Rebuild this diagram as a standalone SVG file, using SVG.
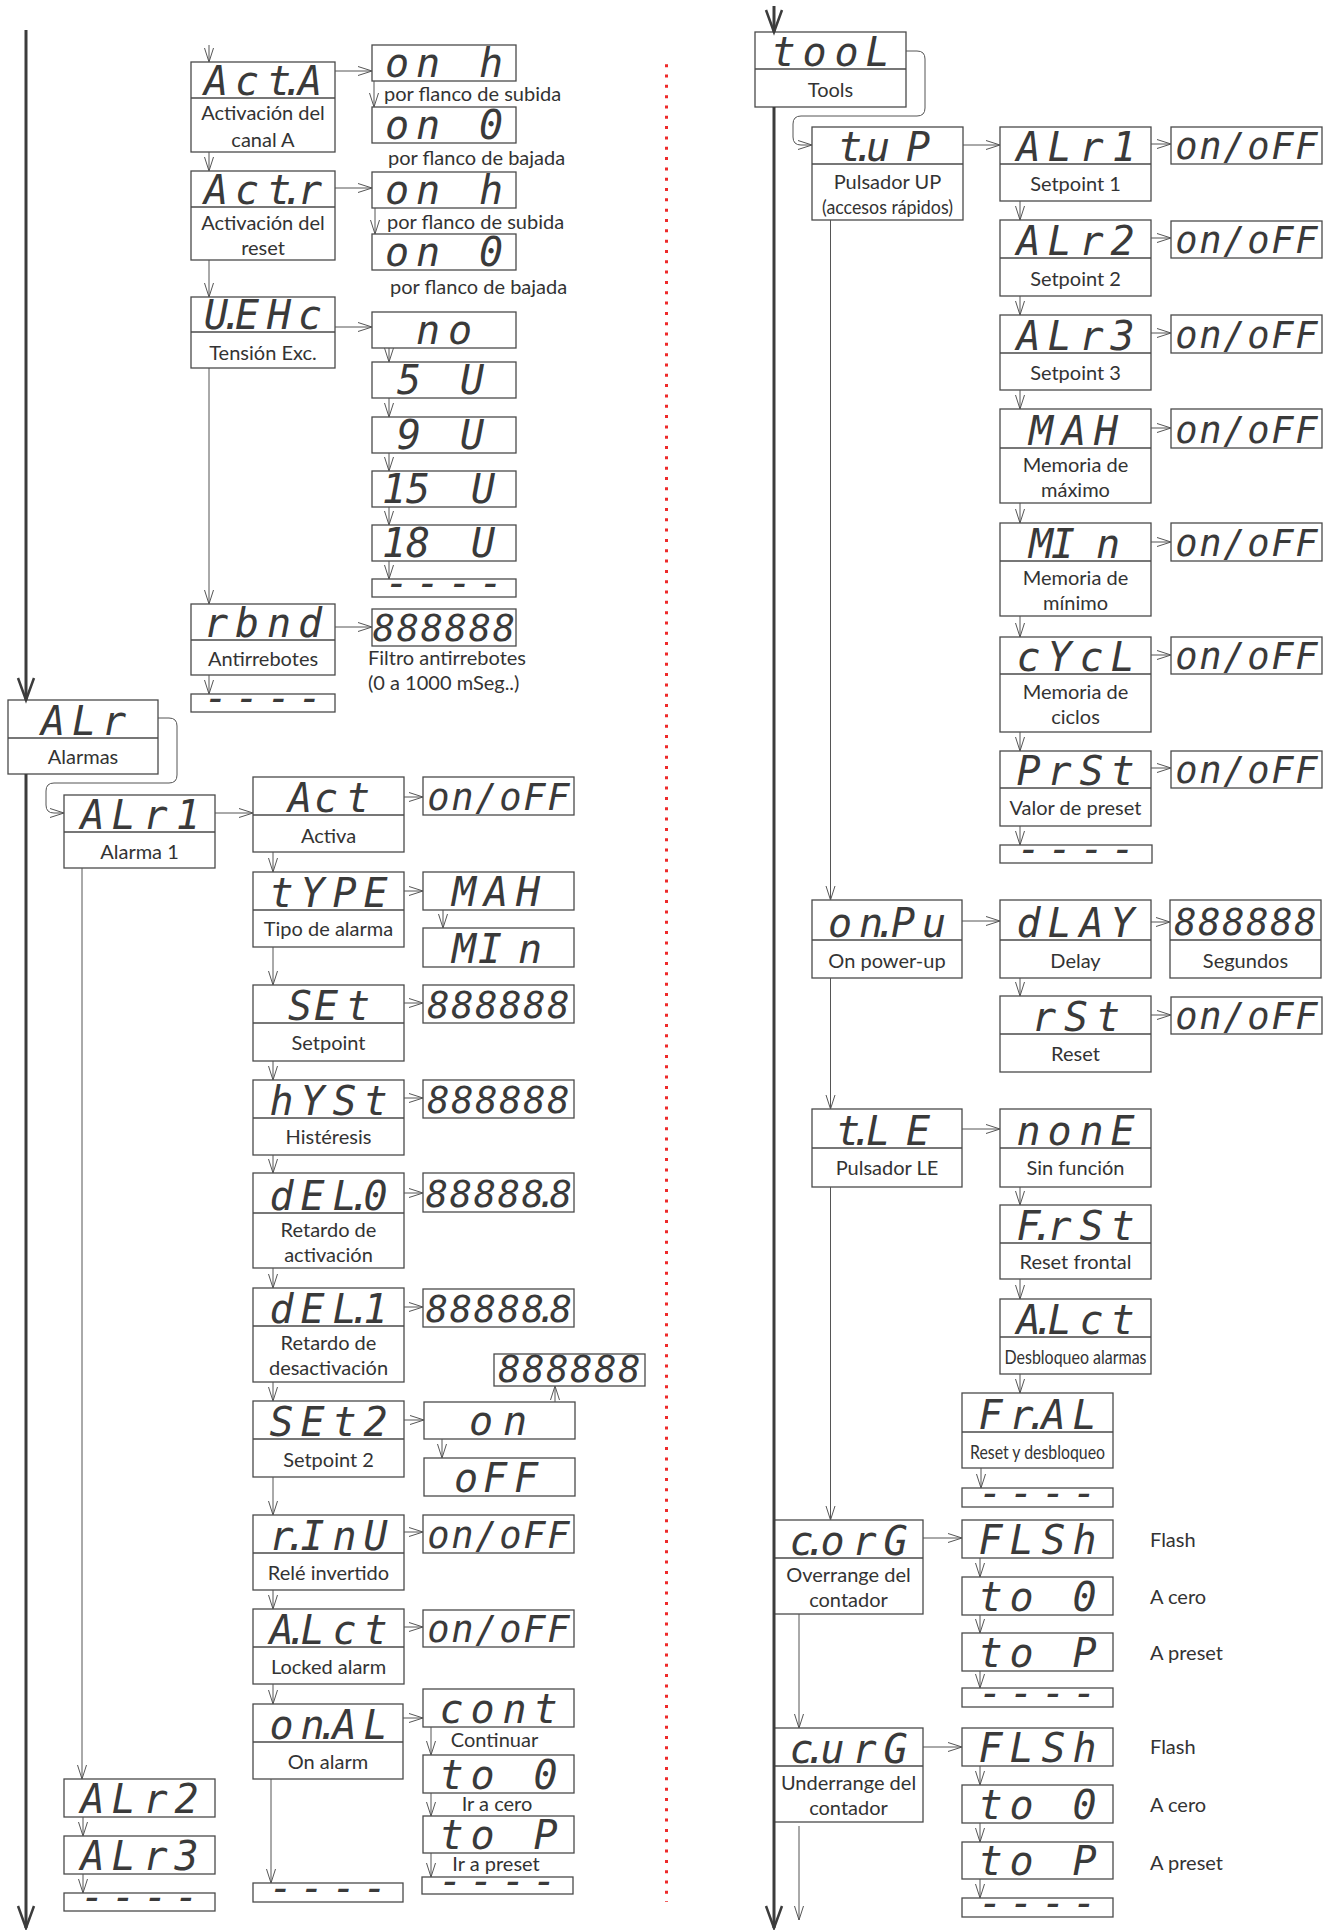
<svg xmlns="http://www.w3.org/2000/svg" width="1332" height="1930" viewBox="0 0 1332 1930">
<style>
.b{fill:#fff;stroke:#4a4a4a;stroke-width:1.3}
.d{stroke:#4a4a4a;stroke-width:1.3}
.s{font-family:"DejaVu Sans Mono","Liberation Mono",monospace;font-style:italic;font-size:40px;fill:#3a3a3a;text-anchor:middle}
.v{font-family:"DejaVu Sans Mono","Liberation Mono",monospace;font-style:italic;font-size:37px;fill:#3a3a3a;text-anchor:middle}
.l{font-family:Lato,"Liberation Sans",sans-serif;font-size:20px;fill:#333;text-anchor:middle}
.n{font-family:Lato,"Liberation Sans",sans-serif;font-size:20px;fill:#333}
.c{fill:none;stroke:#555;stroke-width:1;marker-end:url(#a)}
.m{fill:none;stroke:#3c3c3c;stroke-width:3;marker-end:url(#A)}
</style>
<defs>
<marker id="a" markerUnits="userSpaceOnUse" markerWidth="16" markerHeight="12" refX="14" refY="5" orient="auto" overflow="visible"><path d="M0,0.5 L14,5 L0,9.5" fill="none" stroke="#555" stroke-width="1"/></marker>
<marker id="A" markerUnits="userSpaceOnUse" markerWidth="26" markerHeight="20" refX="22" refY="8" orient="auto" overflow="visible"><path d="M0,0 L22,8 L0,16" fill="none" stroke="#3c3c3c" stroke-width="2.5"/></marker>
</defs>
<rect width="1332" height="1930" fill="#fff"/>

<g id="separator"><line x1="666.5" y1="64.2" x2="666.5" y2="1902" stroke="#ee2a2a" stroke-width="3" stroke-dasharray="3 7.32"/></g>

<!-- LEFT COLUMN -->
<g id="n-acta"><rect class="b" x="191" y="62" width="144" height="90"/><line class="d" x1="191" y1="98" x2="335" y2="98"/><text class="s" x="216 247 279 293 310" y="95">Act.A</text><text class="l" x="263" y="120">Activación del</text><text class="l" x="263" y="147">canal A</text></g>
<g id="n-onh1"><rect class="b" x="372" y="45" width="144" height="36"/><text class="s" x="397 428 460 491" y="77">on h</text><text class="n" x="384" y="101">por flanco de subida</text></g>
<g id="n-on01"><rect class="b" x="372" y="107" width="144" height="36"/><text class="s" x="397 428 460 491" y="139">on 0</text><text class="n" x="388" y="165">por flanco de bajada</text></g>
<g id="n-actr"><rect class="b" x="191" y="171" width="144" height="89"/><line class="d" x1="191" y1="207" x2="335" y2="207"/><text class="s" x="216 247 279 293 310" y="204">Act.r</text><text class="l" x="263" y="230">Activación del</text><text class="l" x="263" y="255">reset</text></g>
<g id="n-onh2"><rect class="b" x="372" y="172" width="144" height="36"/><text class="s" x="397 428 460 491" y="204">on h</text><text class="n" x="387" y="229">por flanco de subida</text></g>
<g id="n-on02"><rect class="b" x="372" y="234" width="144" height="36"/><text class="s" x="397 428 460 491" y="266">on 0</text><text class="n" x="390" y="294">por flanco de bajada</text></g>
<g id="n-uehc"><rect class="b" x="191" y="297" width="144" height="71"/><line class="d" x1="191" y1="332" x2="335" y2="332"/><text class="s" x="216 232 247 279 310" y="329">U.EHc</text><text class="l" x="263" y="360">Tensión Exc.</text></g>
<g id="n-no"><rect class="b" x="372" y="312" width="144" height="36"/><text class="s" x="428 460" y="344">no</text></g>
<g id="n-5u"><rect class="b" x="372" y="362" width="144" height="36"/><text class="s" x="409 440 472" y="394">5 U</text></g>
<g id="n-9u"><rect class="b" x="372" y="417" width="144" height="36"/><text class="s" x="409 440 472" y="449">9 U</text></g>
<g id="n-15u"><rect class="b" x="372" y="471" width="144" height="36"/><text class="s" x="394 418 450 483" y="503">15 U</text></g>
<g id="n-18u"><rect class="b" x="372" y="525" width="144" height="36"/><text class="s" x="394 418 450 483" y="557">18 U</text></g>
<g id="n-uend"><rect class="b" x="372" y="579" width="144" height="18"/><text class="s" x="397 428 460 491" y="597">----</text></g>
<g id="n-rbnd"><rect class="b" x="191" y="604" width="144" height="71"/><line class="d" x1="191" y1="640" x2="335" y2="640"/><text class="s" x="216 247 279 310" y="637">rbnd</text><text class="l" x="263" y="666">Antirrebotes</text></g>
<g id="n-rbndval"><rect class="b" x="372" y="609" width="144" height="37"/><text class="v" x="384 408 432 456 480 504" y="641">888888</text><text class="n" x="368" y="665">Filtro antirrebotes</text><text class="n" x="368" y="690">(0 a 1000 mSeg..)</text></g>
<g id="n-aend"><rect class="b" x="191" y="694" width="144" height="18"/><text class="s" x="216 247 279 310" y="712">----</text></g>

<g id="n-alr"><rect class="b" x="8" y="700" width="150" height="74"/><line class="d" x1="8" y1="738" x2="158" y2="738"/><text class="s" x="53 84 114" y="735">ALr</text><text class="l" x="83" y="764">Alarmas</text></g>
<g id="n-alr1"><rect class="b" x="64" y="795" width="151" height="73"/><line class="d" x1="64" y1="832" x2="215" y2="832"/><text class="s" x="92.5 123.5 155.5 188" y="829">ALr1</text><text class="l" x="139.5" y="859">Alarma 1</text></g>
<g id="n-act"><rect class="b" x="253" y="777" width="151" height="75"/><line class="d" x1="253" y1="815" x2="404" y2="815"/><text class="s" x="300 326 358" y="812">Act</text><text class="l" x="328.5" y="843">Activa</text></g>
<g id="n-actval"><rect class="b" x="423" y="777" width="151" height="38"/><text class="v" x="438.5 462.5 486.5 510.5 534.5 558.5" y="810">on/oFF</text></g>
<g id="n-type"><rect class="b" x="253" y="872" width="151" height="75"/><line class="d" x1="253" y1="910" x2="404" y2="910"/><text class="s" x="281.5 312.5 344.5 375.5" y="907">tYPE</text><text class="l" x="328.5" y="936">Tipo de alarma</text></g>
<g id="n-mah"><rect class="b" x="423" y="872" width="151" height="38"/><text class="s" x="464 496 528" y="906">MAH</text></g>
<g id="n-min"><rect class="b" x="423" y="928" width="151" height="39"/><text class="s" x="464 490 530" y="963">MIn</text></g>
<g id="n-set"><rect class="b" x="253" y="985" width="151" height="76"/><line class="d" x1="253" y1="1023" x2="404" y2="1023"/><text class="s" x="300 326 358" y="1020">SEt</text><text class="l" x="328.5" y="1050">Setpoint</text></g>
<g id="n-setval"><rect class="b" x="423" y="985" width="151" height="38"/><text class="v" x="438.5 462.5 486.5 510.5 534.5 558.5" y="1018">888888</text></g>
<g id="n-hyst"><rect class="b" x="253" y="1080" width="151" height="75"/><line class="d" x1="253" y1="1118" x2="404" y2="1118"/><text class="s" x="281.5 312.5 344.5 375.5" y="1115">hYSt</text><text class="l" x="328.5" y="1144">Histéresis</text></g>
<g id="n-hystval"><rect class="b" x="423" y="1080" width="151" height="38"/><text class="v" x="438.5 462.5 486.5 510.5 534.5 558.5" y="1113">888888</text></g>
<g id="n-del0"><rect class="b" x="253" y="1173" width="151" height="95"/><line class="d" x1="253" y1="1213" x2="404" y2="1213"/><text class="s" x="281.5 312.5 344.5 360 375.5" y="1210">dEL.0</text><text class="l" x="328.5" y="1237">Retardo de</text><text class="l" x="328.5" y="1262">activación</text></g>
<g id="n-del0val"><rect class="b" x="423" y="1173" width="151" height="39"/><text class="v" x="437 461 485 509 533 547 561" y="1207">88888.8</text></g>
<g id="n-del1"><rect class="b" x="253" y="1288" width="151" height="94"/><line class="d" x1="253" y1="1326" x2="404" y2="1326"/><text class="s" x="281.5 312.5 344.5 360 375.5" y="1323">dEL.1</text><text class="l" x="328.5" y="1350">Retardo de</text><text class="l" x="328.5" y="1375">desactivación</text></g>
<g id="n-del1val"><rect class="b" x="423" y="1289" width="151" height="38"/><text class="v" x="437 461 485 509 533 547 561" y="1322">88888.8</text></g>
<g id="n-set2"><rect class="b" x="253" y="1401" width="151" height="76"/><line class="d" x1="253" y1="1439" x2="404" y2="1439"/><text class="s" x="281.5 312.5 344.5 375.5" y="1436">SEt2</text><text class="l" x="328.5" y="1467">Setpoint 2</text></g>
<g id="n-set2val"><rect class="b" x="494" y="1354" width="151" height="32"/><text class="v" x="509.5 533.5 557.5 581.5 605.5 629.5" y="1382">888888</text></g>
<g id="n-set2on"><rect class="b" x="424" y="1402" width="151" height="37"/><text class="s" x="481 515" y="1435">on</text></g>
<g id="n-set2off"><rect class="b" x="424" y="1458" width="151" height="38"/><text class="s" x="466 495 526" y="1492">oFF</text></g>
<g id="n-rinu"><rect class="b" x="253" y="1515" width="151" height="75"/><line class="d" x1="253" y1="1553" x2="404" y2="1553"/><text class="s" x="281.5 296 312.5 344.5 375.5" y="1550">r.InU</text><text class="l" x="328.5" y="1580">Relé invertido</text></g>
<g id="n-rinuval"><rect class="b" x="423" y="1515" width="151" height="38"/><text class="v" x="438.5 462.5 486.5 510.5 534.5 558.5" y="1548">on/oFF</text></g>
<g id="n-alct"><rect class="b" x="253" y="1609" width="151" height="75"/><line class="d" x1="253" y1="1647" x2="404" y2="1647"/><text class="s" x="281.5 297 312.5 344.5 375.5" y="1644">A.Lct</text><text class="l" x="328.5" y="1674">Locked alarm</text></g>
<g id="n-alctval"><rect class="b" x="423" y="1610" width="151" height="37"/><text class="v" x="438.5 462.5 486.5 510.5 534.5 558.5" y="1642">on/oFF</text></g>
<g id="n-onal"><rect class="b" x="253" y="1704" width="150" height="75"/><line class="d" x1="253" y1="1742" x2="403" y2="1742"/><text class="s" x="281.5 312.5 328 344.5 375.5" y="1739">on.AL</text><text class="l" x="328" y="1769">On alarm</text></g>
<g id="n-cont"><rect class="b" x="423" y="1689" width="151" height="38"/><text class="s" x="451.5 482.5 514.5 545.5" y="1723">cont</text><text class="l" x="494.5" y="1747">Continuar</text></g>
<g id="n-to0a"><rect class="b" x="423" y="1755" width="151" height="38"/><text class="s" x="451.5 482.5 514.5 545.5" y="1789">to 0</text><text class="l" x="497" y="1811">Ir a cero</text></g>
<g id="n-topa"><rect class="b" x="423" y="1816" width="151" height="37"/><text class="s" x="451.5 482.5 514.5 545.5" y="1849">to P</text><text class="l" x="496" y="1871">Ir a preset</text></g>
<g id="n-onalend"><rect class="b" x="422" y="1877" width="151" height="17"/><text class="s" x="450.5 481.5 513.5 544.5" y="1894.5">----</text></g>
<g id="n-alr1end"><rect class="b" x="253" y="1883" width="150" height="19"/><text class="s" x="281 312 344 375" y="1901.5">----</text></g>
<g id="n-alr2"><rect class="b" x="64" y="1779" width="151" height="38"/><text class="s" x="92.5 123.5 155.5 186.5" y="1813">ALr2</text></g>
<g id="n-alr3"><rect class="b" x="64" y="1836" width="151" height="38"/><text class="s" x="92.5 123.5 155.5 186.5" y="1870">ALr3</text></g>
<g id="n-alrend"><rect class="b" x="64" y="1893" width="151" height="18"/><text class="s" x="92.5 123.5 155.5 186.5" y="1911">----</text></g>

<!-- RIGHT COLUMN -->
<g id="n-tool"><rect class="b" x="755" y="32" width="151" height="75"/><line class="d" x1="755" y1="69" x2="906" y2="69"/><text class="s" x="783.5 814.5 846.5 877.5" y="66">tooL</text><text class="l" x="830.5" y="97">Tools</text></g>
<g id="n-tup"><rect class="b" x="812" y="127" width="151" height="93"/><line class="d" x1="812" y1="164" x2="963" y2="164"/><text class="s" x="850 864 878 918" y="161">t.uP</text><text class="l" x="887.5" y="189">Pulsador UP</text><text class="l" x="887.5" y="214" textLength="131" lengthAdjust="spacingAndGlyphs">(accesos rápidos)</text></g>
<g id="n-r-alr1"><rect class="b" x="1000" y="127" width="151" height="74"/><line class="d" x1="1000" y1="164" x2="1151" y2="164"/><text class="s" x="1028.5 1059.5 1091.5 1124" y="161">ALr1</text><text class="l" x="1075.5" y="191">Setpoint 1</text></g>
<g id="n-r-alr1val"><rect class="b" x="1171" y="127" width="151" height="37"/><text class="v" x="1186.5 1210.5 1234.5 1258.5 1282.5 1306.5" y="159">on/oFF</text></g>
<g id="n-r-alr2"><rect class="b" x="1000" y="220" width="151" height="76"/><line class="d" x1="1000" y1="258" x2="1151" y2="258"/><text class="s" x="1028.5 1059.5 1091.5 1122.5" y="255">ALr2</text><text class="l" x="1075.5" y="286">Setpoint 2</text></g>
<g id="n-r-alr2val"><rect class="b" x="1171" y="221" width="151" height="37"/><text class="v" x="1186.5 1210.5 1234.5 1258.5 1282.5 1306.5" y="253">on/oFF</text></g>
<g id="n-r-alr3"><rect class="b" x="1000" y="315" width="151" height="75"/><line class="d" x1="1000" y1="353" x2="1151" y2="353"/><text class="s" x="1028.5 1059.5 1091.5 1122.5" y="350">ALr3</text><text class="l" x="1075.5" y="380">Setpoint 3</text></g>
<g id="n-r-alr3val"><rect class="b" x="1171" y="315" width="151" height="38"/><text class="v" x="1186.5 1210.5 1234.5 1258.5 1282.5 1306.5" y="348">on/oFF</text></g>
<g id="n-r-mah"><rect class="b" x="1000" y="409" width="151" height="94"/><line class="d" x1="1000" y1="448" x2="1151" y2="448"/><text class="s" x="1041 1074 1106" y="445">MAH</text><text class="l" x="1075.5" y="472">Memoria de</text><text class="l" x="1075.5" y="497">máximo</text></g>
<g id="n-r-mahval"><rect class="b" x="1171" y="409" width="151" height="39"/><text class="v" x="1186.5 1210.5 1234.5 1258.5 1282.5 1306.5" y="443">on/oFF</text></g>
<g id="n-r-min"><rect class="b" x="1000" y="523" width="151" height="93"/><line class="d" x1="1000" y1="561" x2="1151" y2="561"/><text class="s" x="1041 1063 1108" y="558">MIn</text><text class="l" x="1075.5" y="585">Memoria de</text><text class="l" x="1075.5" y="610">mínimo</text></g>
<g id="n-r-minval"><rect class="b" x="1171" y="523" width="151" height="38"/><text class="v" x="1186.5 1210.5 1234.5 1258.5 1282.5 1306.5" y="556">on/oFF</text></g>
<g id="n-r-cycl"><rect class="b" x="1000" y="637" width="151" height="95"/><line class="d" x1="1000" y1="674" x2="1151" y2="674"/><text class="s" x="1028.5 1059.5 1091.5 1122.5" y="671">cYcL</text><text class="l" x="1075.5" y="699">Memoria de</text><text class="l" x="1075.5" y="724">ciclos</text></g>
<g id="n-r-cyclval"><rect class="b" x="1171" y="637" width="151" height="37"/><text class="v" x="1186.5 1210.5 1234.5 1258.5 1282.5 1306.5" y="669">on/oFF</text></g>
<g id="n-r-prst"><rect class="b" x="1000" y="751" width="151" height="75"/><line class="d" x1="1000" y1="788" x2="1151" y2="788"/><text class="s" x="1028.5 1059.5 1091.5 1122.5" y="785">PrSt</text><text class="l" x="1075.5" y="815">Valor de preset</text></g>
<g id="n-r-prstval"><rect class="b" x="1171" y="751" width="151" height="37"/><text class="v" x="1186.5 1210.5 1234.5 1258.5 1282.5 1306.5" y="783">on/oFF</text></g>
<g id="n-r-tupend"><rect class="b" x="1000" y="845" width="152" height="18"/><text class="s" x="1029 1060 1092 1123" y="863">----</text></g>
<g id="n-onpu"><rect class="b" x="812" y="900" width="150" height="78"/><line class="d" x1="812" y1="940" x2="962" y2="940"/><text class="s" x="840 871 886 903 934" y="937">on.Pu</text><text class="l" x="887" y="968">On power-up</text></g>
<g id="n-dlay"><rect class="b" x="1000" y="900" width="151" height="78"/><line class="d" x1="1000" y1="940" x2="1151" y2="940"/><text class="s" x="1028.5 1059.5 1091.5 1122.5" y="937">dLAY</text><text class="l" x="1075.5" y="968">Delay</text></g>
<g id="n-seg"><rect class="b" x="1170" y="900" width="151" height="78"/><line class="d" x1="1170" y1="940" x2="1321" y2="940"/><text class="v" x="1185.5 1209.5 1233.5 1257.5 1281.5 1305.5" y="935">888888</text><text class="l" x="1245.5" y="968">Segundos</text></g>
<g id="n-rst"><rect class="b" x="1000" y="996" width="151" height="76"/><line class="d" x1="1000" y1="1034" x2="1151" y2="1034"/><text class="s" x="1044 1076 1108" y="1031">rSt</text><text class="l" x="1075.5" y="1061">Reset</text></g>
<g id="n-rstval"><rect class="b" x="1171" y="997" width="151" height="37"/><text class="v" x="1186.5 1210.5 1234.5 1258.5 1282.5 1306.5" y="1029">on/oFF</text></g>
<g id="n-tle"><rect class="b" x="812" y="1109" width="150" height="78"/><line class="d" x1="812" y1="1148" x2="962" y2="1148"/><text class="s" x="848 862 878 918" y="1145">t.LE</text><text class="l" x="887" y="1175">Pulsador LE</text></g>
<g id="n-none"><rect class="b" x="1000" y="1109" width="151" height="78"/><line class="d" x1="1000" y1="1148" x2="1151" y2="1148"/><text class="s" x="1028.5 1059.5 1091.5 1122.5" y="1145">nonE</text><text class="l" x="1075.5" y="1175">Sin función</text></g>
<g id="n-frst"><rect class="b" x="1000" y="1205" width="151" height="74"/><line class="d" x1="1000" y1="1243" x2="1151" y2="1243"/><text class="s" x="1028.5 1043 1059.5 1091.5 1122.5" y="1240">F.rSt</text><text class="l" x="1075.5" y="1269">Reset frontal</text></g>
<g id="n-r-alct"><rect class="b" x="1000" y="1299" width="151" height="75"/><line class="d" x1="1000" y1="1337" x2="1151" y2="1337"/><text class="s" x="1028.5 1044 1059.5 1091.5 1122.5" y="1334">A.Lct</text><text class="l" x="1075.5" y="1364" textLength="142" lengthAdjust="spacingAndGlyphs">Desbloqueo alarmas</text></g>
<g id="n-fral"><rect class="b" x="962" y="1393" width="151" height="75"/><line class="d" x1="962" y1="1432" x2="1113" y2="1432"/><text class="s" x="990.5 1021.5 1037 1053.5 1084.5" y="1429">Fr.AL</text><text class="l" x="1037.5" y="1459" textLength="135" lengthAdjust="spacingAndGlyphs">Reset y desbloqueo</text></g>
<g id="n-tleend"><rect class="b" x="962" y="1488" width="151" height="19"/><text class="s" x="990.5 1021.5 1053.5 1084.5" y="1506.5">----</text></g>
<g id="n-corg"><rect class="b" x="774" y="1520" width="149" height="94"/><line class="d" x1="774" y1="1558" x2="923" y2="1558"/><text class="s" x="801.5 816 832.5 864.5 895.5" y="1555">c.orG</text><text class="l" x="848.5" y="1582">Overrange del</text><text class="l" x="848.5" y="1607">contador</text></g>
<g id="n-flsh1"><rect class="b" x="962" y="1520" width="151" height="38"/><text class="s" x="990.5 1021.5 1053.5 1084.5" y="1554">FLSh</text><text class="n" x="1150" y="1547">Flash</text></g>
<g id="n-to01"><rect class="b" x="962" y="1577" width="151" height="38"/><text class="s" x="990.5 1021.5 1053.5 1084.5" y="1611">to 0</text><text class="n" x="1150" y="1604">A cero</text></g>
<g id="n-top1"><rect class="b" x="962" y="1633" width="151" height="38"/><text class="s" x="990.5 1021.5 1053.5 1084.5" y="1667">to P</text><text class="n" x="1150" y="1660">A preset</text></g>
<g id="n-corgend"><rect class="b" x="962" y="1688" width="151" height="19"/><text class="s" x="990.5 1021.5 1053.5 1084.5" y="1706.5">----</text></g>
<g id="n-curg"><rect class="b" x="774" y="1728" width="149" height="94"/><line class="d" x1="774" y1="1766" x2="923" y2="1766"/><text class="s" x="801.5 816 832.5 864.5 895.5" y="1763">c.urG</text><text class="l" x="848.5" y="1790">Underrange del</text><text class="l" x="848.5" y="1815">contador</text></g>
<g id="n-flsh2"><rect class="b" x="962" y="1728" width="151" height="38"/><text class="s" x="990.5 1021.5 1053.5 1084.5" y="1762">FLSh</text><text class="n" x="1150" y="1754">Flash</text></g>
<g id="n-to02"><rect class="b" x="962" y="1785" width="151" height="38"/><text class="s" x="990.5 1021.5 1053.5 1084.5" y="1819">to 0</text><text class="n" x="1150" y="1812">A cero</text></g>
<g id="n-top2"><rect class="b" x="962" y="1842" width="151" height="37"/><text class="s" x="990.5 1021.5 1053.5 1084.5" y="1875">to P</text><text class="n" x="1150" y="1870">A preset</text></g>
<g id="n-curgend"><rect class="b" x="962" y="1898" width="151" height="19"/><text class="s" x="990.5 1021.5 1053.5 1084.5" y="1916.5">----</text></g>

<g id="connectors">
<path class="m" d="M26,30 V700"/>
<path class="m" d="M26,774 V1928"/>
<path class="m" d="M774,6 V32"/>
<path class="m" d="M774,107 V1928"/>
<path class="c" d="M209,45 V62"/>
<path class="c" d="M335,71 H372"/>
<path class="c" d="M374,81 V107"/>
<path class="c" d="M209,152 V171"/>
<path class="c" d="M335,188 H372"/>
<path class="c" d="M375,208 V234"/>
<path class="c" d="M209,260 V297"/>
<path class="c" d="M335,327 H372"/>
<path class="c" d="M389,348 V362"/>
<path class="c" d="M389,398 V417"/>
<path class="c" d="M389,453 V471"/>
<path class="c" d="M389,507 V525"/>
<path class="c" d="M389,561 V579"/>
<path class="c" d="M209,368 V604"/>
<path class="c" d="M335,627 H372"/>
<path class="c" d="M209,675 V694"/>
<path class="c" d="M158,718 H169 Q177,718 177,726 V775 Q177,783 169,783 H54 Q46,783 46,791 V805 Q46,813 54,813 H64"/>
<path class="c" d="M215,813 H253"/>
<path class="c" d="M82,868 V1779"/>
<path class="c" d="M83,1817 V1836"/>
<path class="c" d="M83,1874 V1893"/>
<path class="c" d="M404,797 H423"/>
<path class="c" d="M273,852 V872"/>
<path class="c" d="M404,891 H423"/>
<path class="c" d="M443,910 V928"/>
<path class="c" d="M273,947 V985"/>
<path class="c" d="M404,1003 H423"/>
<path class="c" d="M273,1061 V1080"/>
<path class="c" d="M404,1098 H423"/>
<path class="c" d="M273,1155 V1173"/>
<path class="c" d="M404,1193 H423"/>
<path class="c" d="M273,1268 V1288"/>
<path class="c" d="M404,1307 H423"/>
<path class="c" d="M273,1382 V1401"/>
<path class="c" d="M404,1420 H424"/>
<path class="c" d="M555,1402 V1386"/>
<path class="c" d="M442,1439 V1458"/>
<path class="c" d="M273,1477 V1515"/>
<path class="c" d="M404,1532 H423"/>
<path class="c" d="M273,1590 V1609"/>
<path class="c" d="M404,1627 H423"/>
<path class="c" d="M273,1684 V1704"/>
<path class="c" d="M403,1718 H423"/>
<path class="c" d="M431,1727 V1755"/>
<path class="c" d="M431,1793 V1816"/>
<path class="c" d="M431,1853 V1877"/>
<path class="c" d="M271,1779 V1883"/>
<path class="c" d="M906,51 H917 Q925,51 925,59 V108 Q925,116 917,116 H801 Q793,116 793,124 V137 Q793,145 801,145 H812"/>
<path class="c" d="M963,145 H1000"/>
<path class="c" d="M1151,144 H1171"/>
<path class="c" d="M1151,238 H1171"/>
<path class="c" d="M1151,333 H1171"/>
<path class="c" d="M1151,428 H1171"/>
<path class="c" d="M1151,542 H1171"/>
<path class="c" d="M1151,655 H1171"/>
<path class="c" d="M1151,768 H1171"/>
<path class="c" d="M1020,201 V220"/>
<path class="c" d="M1020,296 V315"/>
<path class="c" d="M1020,390 V409"/>
<path class="c" d="M1020,503 V523"/>
<path class="c" d="M1020,616 V637"/>
<path class="c" d="M1020,732 V751"/>
<path class="c" d="M1020,826 V845"/>
<path class="c" d="M830.5,220 V900"/>
<path class="c" d="M962,921 H1000"/>
<path class="c" d="M1151,922 H1170"/>
<path class="c" d="M1020,978 V996"/>
<path class="c" d="M1151,1015 H1171"/>
<path class="c" d="M830.5,978 V1109"/>
<path class="c" d="M962,1129 H1000"/>
<path class="c" d="M1020,1187 V1205"/>
<path class="c" d="M1020,1279 V1299"/>
<path class="c" d="M1020,1374 V1393"/>
<path class="c" d="M981,1468 V1488"/>
<path class="c" d="M830.5,1187 V1520"/>
<path class="c" d="M923,1538 H962"/>
<path class="c" d="M980,1558 V1577"/>
<path class="c" d="M980,1615 V1633"/>
<path class="c" d="M980,1671 V1688"/>
<path class="c" d="M799,1614 V1728"/>
<path class="c" d="M923,1747 H962"/>
<path class="c" d="M980,1766 V1785"/>
<path class="c" d="M980,1823 V1842"/>
<path class="c" d="M980,1879 V1898"/>
<path class="c" d="M799,1826 V1920"/>
</g>
</svg>
